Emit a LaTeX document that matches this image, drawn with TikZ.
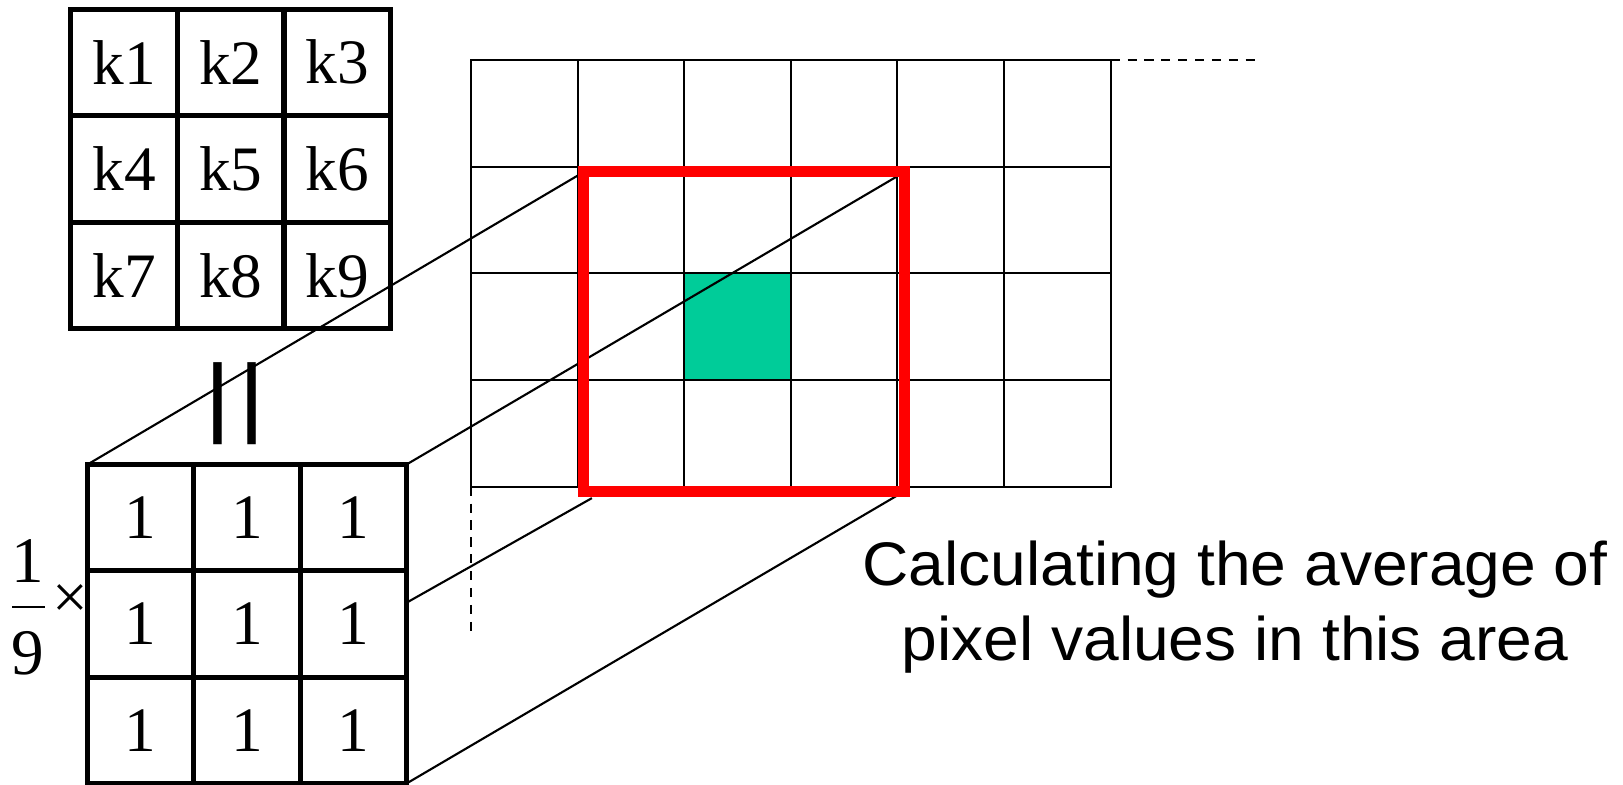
\documentclass[tikz,border=0pt]{standalone}
\usepackage{fontspec}
\setmainfont{Liberation Serif}
\newfontfamily\notefont{Liberation Sans}
\usetikzlibrary{calc,positioning}
\definecolor{tealgreen}{HTML}{00CC99}

\begin{document}
\begin{tikzpicture}[x=0.01cm,y=-0.01cm,font=\fontsize{18}{20}\selectfont,
kcell/.style={draw,line width=1.42pt,minimum size=1.065cm,inner sep=0pt,outer sep=0pt},
onecell/.style={kcell,minimum size=1.063cm,fill=white},
pixcell/.style={draw,line width=0.57pt,minimum width=1.066cm,minimum height=1.0667cm,inner sep=0pt,outer sep=0pt},
conn/.style={line width=0.6pt},
redbox/.style={draw=red,line width=3.13pt},
dashline/.style={line width=0.57pt,dash pattern=on 2.6pt off 2.2pt},
fracdigit/.style={inner sep=0pt,font=\fontsize{18.5}{20}\selectfont}]
\useasboundingbox (0,0) rectangle (1623,784);
\foreach \c in {1,...,6}
  \foreach \r in {1,...,4}
    \node[pixcell] (pix-\c-\r) at ({471+(\c-0.5)*106.6},{60+(\r-0.5)*106.67}) {};
\fill[tealgreen] (pix-3-3.north west) rectangle (pix-3-3.south east);
\draw[line width=0.57pt] (pix-3-3.north west) rectangle (pix-3-3.south east);
\draw[dashline] (pix-6-1.north east) -- ++(145,0);
\draw[dashline] (pix-1-4.south west) -- ++(0,151);
\node[minimum width=3.206cm,minimum height=3.19cm,inner sep=0pt,outer sep=0pt] (win) at (744.3,331.5) {};
\foreach \r in {1,2,3}
  \foreach \c in {1,2,3}
    \node[onecell] (one-\r-\c) at ({87.5+(\c-0.5)*106.33},{464.5+(\r-0.5)*106.33}) {1};
\draw[conn] (one-1-1.north west) -- (win.north west);
\draw[conn] (one-1-3.north east) -- (win.north east);
\draw[conn] ($(one-2-3.north east)!0.3!(one-2-3.south east)$) -- ($(win.south west)+(8,7)$);
\draw[conn] (one-3-3.south east) -- (win.south east);
\draw[redbox] (win.north west) rectangle (win.south east);
\foreach \r in {1,2,3}
  \foreach \c in {1,2,3}{
    \pgfmathtruncatemacro\n{(\r-1)*3+\c}
    \node[kcell] (k-\r-\c) at ({71+(\c-0.5)*106.5},{9+(\r-0.5)*106.67}) {k\n};
  }
\node[rotate=90,xscale=1.14,yscale=1.1,inner sep=0pt,font=\fontsize{44}{44}\selectfont] (eqsign) at (253,404) {=};
\node[fracdigit] (num) at (28,561) {1};
\node[fracdigit] (den) at (28,653) {9};
\draw[line width=0.6pt] ($(num.south)!0.5!(den.north)+(-16,0)$) -- ++(33,0);
\node[inner sep=0pt] (times) at (70,602) {×};
\node[font=\notefont\fontsize{17.5}{21.34}\selectfont,align=center,inner sep=0pt,xscale=1.042] (note) at (1235,607) {Calculating the average of\\pixel values in this area};
\end{tikzpicture}
\end{document}
